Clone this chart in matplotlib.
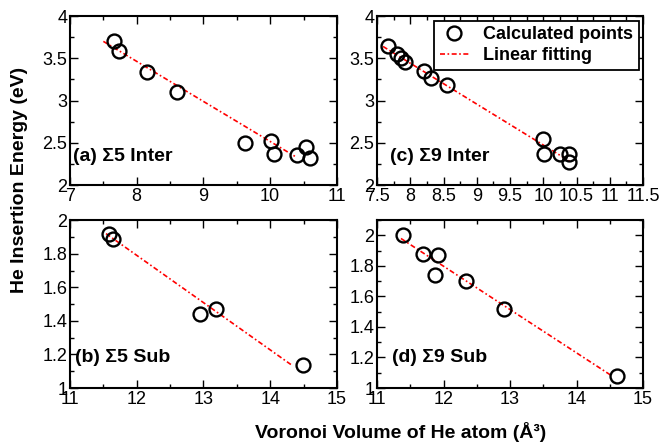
import matplotlib
matplotlib.use("Agg")
import matplotlib.pyplot as plt
from matplotlib.ticker import MultipleLocator, FormatStrFormatter

plt.rcParams['font.family'] = ['Liberation Sans', 'DejaVu Sans']

# (a) Sigma5 interstitial
a_vol = [7.66, 7.74, 8.16, 8.60, 9.62, 10.01, 10.06, 10.40, 10.54, 10.59]
a_energy = [3.70, 3.59, 3.34, 3.10, 2.50, 2.52, 2.37, 2.36, 2.45, 2.32]
a_fit_vol = [7.50, 10.37]
a_fit_energy = [3.70, 2.34]

# (b) Sigma5 substitutional
b_vol = [11.59, 11.65, 12.95, 13.19, 14.49]
b_energy = [1.92, 1.89, 1.44, 1.47, 1.14]
b_fit_vol = [11.54, 14.31]
b_fit_energy = [1.92, 1.14]

# (c) Sigma9 interstitial
c_vol = [7.67, 7.80, 7.86, 7.92, 8.20, 8.31, 8.55, 10.00, 10.01, 10.25, 10.38, 10.38]
c_energy = [3.64, 3.55, 3.50, 3.46, 3.35, 3.27, 3.18, 2.54, 2.37, 2.37, 2.37, 2.27]
c_fit_vol = [7.59, 10.40]
c_fit_energy = [3.64, 2.28]

# (d) Sigma9 substitutional
d_vol = [11.39, 11.69, 11.91, 11.87, 12.34, 12.91, 14.61]
d_energy = [2.00, 1.88, 1.87, 1.74, 1.70, 1.52, 1.08]
d_fit_vol = [11.36, 14.53]
d_fit_energy = [1.98, 1.08]

fig = plt.figure(figsize=(6.64, 4.44), dpi=100)

panels = [
    # rect, data, label, xlim, ylim, xmajor, ymajor, label pos
    ([0.1054, 0.5833, 0.402, 0.3806], (a_vol, a_energy, a_fit_vol, a_fit_energy),
     '(a) Σ5 Inter', (7, 11), (2, 4), 1, 0.5, (0.012, 0.166)),
    ([0.1054, 0.1261, 0.402, 0.378], (b_vol, b_energy, b_fit_vol, b_fit_energy),
     '(b) Σ5 Sub', (11, 15), (1, 2), 1, 0.2, (0.019, 0.18)),
    ([0.5678, 0.5833, 0.4006, 0.3806], (c_vol, c_energy, c_fit_vol, c_fit_energy),
     '(c) Σ9 Inter', (7.5, 11.5), (2, 4), 0.5, 0.5, (0.049, 0.166)),
    ([0.5678, 0.1261, 0.4006, 0.378], (d_vol, d_energy, d_fit_vol, d_fit_energy),
     '(d) Σ9 Sub', (11, 15), (1, 2.1), 1, 0.2, (0.055, 0.18)),
]

fit_style = (0, (3, 1.5, 1, 1.5))

axes = []
for rect, (vx, ey, fx, fy), label, xlim, ylim, xmaj, ymaj, lpos in panels:
    ax = fig.add_axes(rect)
    ax.plot(vx, ey, 'o', ms=10, mfc='none', mec='black', mew=1.7,
            label='Calculated points', zorder=3)
    ax.plot(fx, fy, color='red', lw=1.2, linestyle=fit_style,
            label='Linear fitting', zorder=2)
    ax.set_xlim(*xlim)
    ax.set_ylim(*ylim)
    ax.xaxis.set_major_locator(MultipleLocator(xmaj))
    ax.xaxis.set_minor_locator(MultipleLocator(xmaj / 2))
    ax.yaxis.set_major_locator(MultipleLocator(ymaj))
    ax.yaxis.set_minor_locator(MultipleLocator(ymaj / 2))
    ax.xaxis.set_major_formatter(FormatStrFormatter('%g'))
    ax.yaxis.set_major_formatter(FormatStrFormatter('%g'))
    ax.tick_params(which='both', direction='in', top=True, right=True,
                   labelsize=13, width=1.0)
    ax.tick_params(which='major', length=6, pad=2)
    ax.tick_params(which='minor', length=3)
    for s in ax.spines.values():
        s.set_linewidth(1.5)
    ax.text(lpos[0], lpos[1], label, transform=ax.transAxes, fontsize=14,
            fontweight='bold', va='center', ha='left')
    axes.append(ax)

leg = axes[2].legend(loc='upper right', prop={'weight': 'bold', 'size': 13},
                     frameon=True, fancybox=False, edgecolor='black', framealpha=1,
                     borderpad=0.3, handlelength=1.6, handletextpad=0.8,
                     labelspacing=0.25, borderaxespad=0.25)
leg.get_frame().set_linewidth(1.3)

fig.text(0.029, 0.595, 'He Insertion Energy (eV)', rotation=90, fontsize=14,
         fontweight='bold', ha='center', va='center')
fig.text(0.603, 0.027, 'Voronoi Volume of He atom (Å³)', fontsize=14,
         fontweight='bold', ha='center', va='center')

fig.savefig('out.png', dpi=100)
